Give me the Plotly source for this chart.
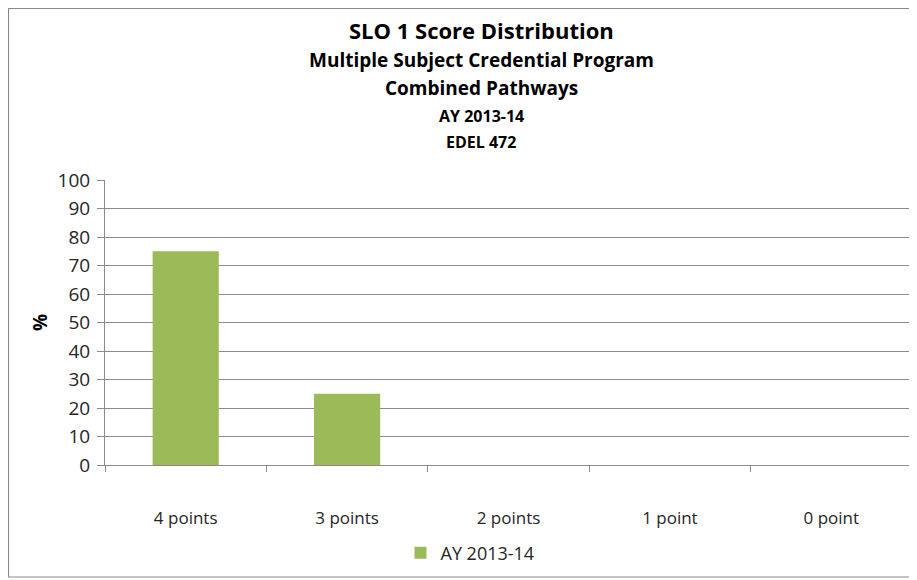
import plotly.graph_objects as go

categories = ["4 points", "3 points", "2 points", "1 point", "0 point"]
values = [75, 25, 0, 0, 0]
series_name = "AY 2013-14"
title_lines = [
    ("SLO 1 Score Distribution", 22),
    ("Multiple Subject Credential Program", 19),
    ("Combined Pathways", 19),
    ("AY 2013-14", 16),
    ("EDEL 472", 16),
]
y_ticks = list(range(0, 101, 10))

FONT = "Open Sans"
GREEN = "#9BBB59"
GRID = "#8c8c8c"
TXT = "#262626"

# the page body adds an 8px offset, so work in page pixels and shift
OFF = 8
W, H = 917 - OFF, 580 - OFF
L, R, T, B = 105 - OFF, 5, 180 - OFF, 115
pw, ph = W - L - R, H - T - B


def px_x(x):
    return (x - OFF - L) / pw


def px_y(y):
    return (H - B - (y - OFF)) / ph


fig = go.Figure()
fig.add_trace(go.Bar(
    x=categories, y=values, name=series_name,
    marker=dict(color=GREEN, line=dict(width=0)),
    width=0.41,
))

title_y = [30, 60, 88, 116, 142]
annotations = []
for (txt, size), yy in zip(title_lines, title_y):
    annotations.append(dict(
        text="<b>%s</b>" % txt, x=px_x(481), y=px_y(yy), xref="paper", yref="paper",
        showarrow=False, xanchor="center", yanchor="middle",
        font=dict(family=FONT, size=size, color="#000000"),
    ))

fig.update_layout(
    width=W, height=H,
    margin=dict(l=L, r=R, t=T, b=B),
    paper_bgcolor="white", plot_bgcolor="white",
    font=dict(family=FONT, size=17, color=TXT),
    annotations=annotations,
    showlegend=True,
    legend=dict(orientation="h", x=px_x(470), y=px_y(553), xanchor="center",
                yanchor="middle", itemwidth=30,
                font=dict(family=FONT, size=18, color=TXT)),
    shapes=[dict(type="rect", xref="paper", yref="paper",
                 x0=px_x(8.5), x1=px_x(915), y0=px_y(577), y1=px_y(8.5),
                 line=dict(color="#8a8a8a", width=1.2))],
)

fig.update_yaxes(
    range=[0, 100], tickvals=y_ticks, showgrid=True, gridcolor=GRID, gridwidth=1,
    showline=True, linecolor=GRID, ticks="outside", ticklen=7, tickcolor=GRID,
    ticklabelstandoff=3,
    tickfont=dict(size=19, color=TXT),
    title=dict(text="<b>%</b>", font=dict(size=19, color="#000000"), standoff=4),
    zeroline=False,
)
fig.update_xaxes(
    showline=True, linecolor=GRID, ticks="outside", ticklen=6, tickcolor=GRID,
    tickson="boundaries", ticklabelstandoff=38,
    tickfont=dict(size=17, color=TXT),
)

fig.write_html("out.html")
